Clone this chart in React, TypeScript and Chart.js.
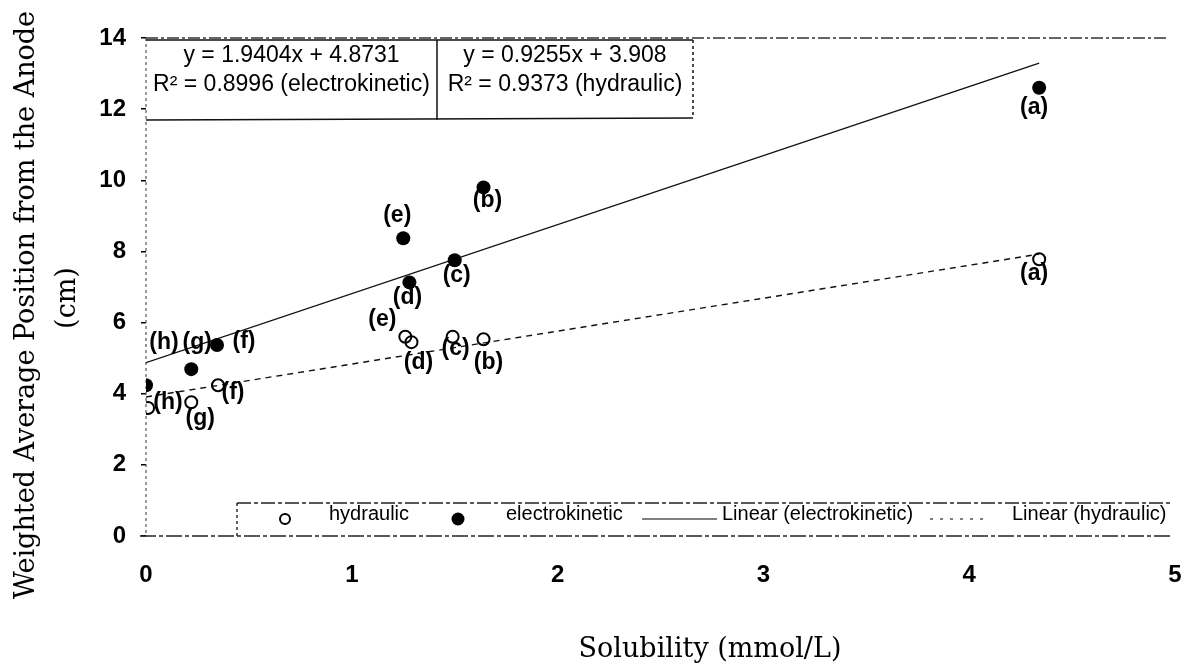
import React, { useEffect, useRef } from "react";
import { Chart, registerables } from "chart.js";

Chart.register(...registerables);

// ---------- data ----------
const pointLabels = ["(a)", "(b)", "(c)", "(d)", "(e)", "(f)", "(g)", "(h)"];
const hydraulicX = [4.34, 1.64, 1.49, 1.29, 1.26, 0.35, 0.22, 0.01];
const hydraulicY = [7.78, 5.53, 5.6, 5.45, 5.6, 4.24, 3.76, 3.6];
const electroX = [4.34, 1.64, 1.5, 1.28, 1.25, 0.345, 0.22, 0.0];
const electroY = [12.6, 9.8, 7.75, 7.13, 8.37, 5.37, 4.69, 4.24];
const trendX = [0, 4.34];
const electroTrendY = [4.873, 13.295];
const hydraulicTrendY = [3.908, 7.925];
const xTicks = [0, 1, 2, 3, 4, 5];
const yTicks = [0, 2, 4, 6, 8, 10, 12, 14];
const equationLines = [
  ["y = 1.9404x + 4.8731", "R\u00B2 = 0.8996 (electrokinetic)"],
  ["y = 0.9255x + 3.908", "R\u00B2 = 0.9373 (hydraulic)"],
];
const legendLabels = ["hydraulic", "electrokinetic", "Linear (electrokinetic)", "Linear (hydraulic)"];
const xTitle = "Solubility (mmol/L)";
const yTitleLines = ["Weighted Average Position from the Anode", "(cm)"];

// ---------- styles (pixel offsets for annotations) ----------
const electroLabelOffsets = [[-5, 20], [4, 13], [2, 15], [-2, 15], [-6, -23], [27, -3], [6, -27], [18, -43]];
const hydraulicLabelOffsets = [[-5, 14], [5, 23], [3, 12], [7, 21], [-23, -17], [15, 7], [9, 16], [20, -5]];

const SANS = "'Liberation Sans', Arial, sans-serif";
const SERIF = "'DejaVu Serif', serif";

const annotationPlugin = {
  id: "annotations",
  beforeDatasetsDraw(chart: any) {
    const { ctx, chartArea } = chart;
    const { left, right, top, bottom } = chartArea;
    ctx.save();
    ctx.strokeStyle = "#333";
    ctx.lineWidth = 1.5;
    ctx.setLineDash([12, 3, 3, 3]);
    ctx.beginPath();
    ctx.moveTo(left, top);
    ctx.lineTo(right - 6, top);
    ctx.stroke();
    ctx.strokeStyle = "#555";
    ctx.lineWidth = 1.2;
    ctx.setLineDash([3, 3]);
    ctx.beginPath();
    ctx.moveTo(left, top);
    ctx.lineTo(left, bottom);
    ctx.stroke();
    ctx.strokeStyle = "#222";
    ctx.lineWidth = 1.5;
    ctx.setLineDash([16, 3, 4, 3]);
    ctx.beginPath();
    ctx.moveTo(left - 6, bottom);
    ctx.lineTo(right - 4, bottom);
    ctx.stroke();
    ctx.restore();
  },
  afterDatasetsDraw(chart: any) {
    const { ctx, chartArea, scales } = chart;
    const xs = scales.x;
    const ys = scales.y;
    ctx.save();

    // ---- equation boxes ----
    const boxTop = chartArea.top + 2;
    const boxBottom = chartArea.top + 82;
    const boxEdges = [chartArea.left, 437, 693];
    ctx.strokeStyle = "#111";
    ctx.lineWidth = 1.5;
    ctx.setLineDash([]);
    ctx.beginPath();
    ctx.moveTo(boxEdges[0], boxTop);
    ctx.lineTo(boxEdges[2], boxTop);
    ctx.moveTo(boxEdges[0], boxBottom);
    ctx.lineTo(boxEdges[2], boxBottom - 2);
    ctx.moveTo(boxEdges[1], boxTop);
    ctx.lineTo(boxEdges[1], boxBottom);
    ctx.stroke();
    ctx.setLineDash([3, 3]);
    ctx.beginPath();
    ctx.moveTo(boxEdges[2], boxTop);
    ctx.lineTo(boxEdges[2], boxBottom - 2);
    ctx.stroke();
    ctx.setLineDash([]);
    ctx.fillStyle = "#000";
    ctx.font = `23px ${SANS}`;
    ctx.textAlign = "center";
    ctx.textBaseline = "middle";
    for (let b = 0; b < 2; b++) {
      const cx = (boxEdges[b] + boxEdges[b + 1]) / 2;
      ctx.fillText(equationLines[b][0], cx, boxTop + 16);
      ctx.fillText(equationLines[b][1], cx, boxTop + 45);
    }

    // ---- point labels ----
    ctx.font = `bold 23px ${SANS}`;
    ctx.textAlign = "center";
    ctx.textBaseline = "middle";
    for (let i = 0; i < pointLabels.length; i++) {
      const ex = xs.getPixelForValue(electroX[i]);
      const ey = ys.getPixelForValue(electroY[i]);
      ctx.fillText(pointLabels[i], ex + electroLabelOffsets[i][0], ey + electroLabelOffsets[i][1]);
      const hx = xs.getPixelForValue(hydraulicX[i]);
      const hy = ys.getPixelForValue(hydraulicY[i]);
      ctx.fillText(pointLabels[i], hx + hydraulicLabelOffsets[i][0], hy + hydraulicLabelOffsets[i][1]);
    }

    // ---- legend ----
    const lTop = 503;
    const lBottom = 537;
    const lLeft = 237;
    const lRight = 1170;
    ctx.strokeStyle = "#222";
    ctx.lineWidth = 1.4;
    ctx.setLineDash([14, 3, 4, 3]);
    ctx.beginPath();
    ctx.moveTo(lLeft, lTop);
    ctx.lineTo(lRight, lTop);
    ctx.stroke();
    ctx.setLineDash([3, 3]);
    ctx.beginPath();
    ctx.moveTo(lLeft, lTop);
    ctx.lineTo(lLeft, lBottom);
    ctx.stroke();
    ctx.setLineDash([]);
    const ly = 514;
    ctx.lineWidth = 2;
    ctx.strokeStyle = "#000";
    ctx.beginPath();
    ctx.arc(285, 519, 5, 0, Math.PI * 2);
    ctx.stroke();
    ctx.fillStyle = "#000";
    ctx.beginPath();
    ctx.arc(458, 519, 6.5, 0, Math.PI * 2);
    ctx.fill();
    ctx.lineWidth = 1.2;
    ctx.beginPath();
    ctx.moveTo(642, 519);
    ctx.lineTo(717, 519);
    ctx.stroke();
    ctx.setLineDash([3, 7]);
    ctx.beginPath();
    ctx.moveTo(930, 519);
    ctx.lineTo(984, 519);
    ctx.stroke();
    ctx.setLineDash([]);
    ctx.font = `20px ${SANS}`;
    ctx.textAlign = "left";
    ctx.textBaseline = "middle";
    ctx.fillText(legendLabels[0], 329, ly);
    ctx.fillText(legendLabels[1], 506, ly);
    ctx.fillText(legendLabels[2], 722, ly);
    ctx.fillText(legendLabels[3], 1012, ly);

    // ---- axis titles ----
    ctx.font = `27px ${SERIF}`;
    ctx.textAlign = "center";
    ctx.textBaseline = "middle";
    ctx.fillText(xTitle, 710, 650);
    ctx.save();
    ctx.translate(27, 305);
    ctx.rotate(-Math.PI / 2);
    ctx.fillText(yTitleLines[0], 0, 0);
    ctx.restore();
    ctx.save();
    ctx.translate(68, 298);
    ctx.rotate(-Math.PI / 2);
    ctx.fillText(yTitleLines[1], 0, 0);
    ctx.restore();

    ctx.restore();
  },
};

export default function App() {
  const ref = useRef<HTMLCanvasElement | null>(null);
  useEffect(() => {
    if (!ref.current) return;
    const chart = new Chart(ref.current, {
      type: "scatter",
      data: {
        datasets: [
          {
            label: legendLabels[2],
            data: trendX.map((x, i) => ({ x, y: electroTrendY[i] })),
            showLine: true,
            borderColor: "#111",
            borderWidth: 1.4,
            pointRadius: 0,
            order: 3,
          },
          {
            label: legendLabels[3],
            data: trendX.map((x, i) => ({ x, y: hydraulicTrendY[i] })),
            showLine: true,
            borderColor: "#111",
            borderWidth: 1.4,
            borderDash: [6, 5],
            pointRadius: 0,
            order: 4,
          },
          {
            label: legendLabels[0],
            data: hydraulicX.map((x, i) => ({ x, y: hydraulicY[i] })),
            pointRadius: 6,
            pointBorderWidth: 2,
            borderColor: "#000",
            backgroundColor: "rgba(0,0,0,0)",
            order: 1,
          },
          {
            label: legendLabels[1],
            data: electroX.map((x, i) => ({ x, y: electroY[i] })),
            pointRadius: 7,
            pointBorderWidth: 0,
            borderColor: "#000",
            backgroundColor: "#000",
            order: 2,
          },
        ],
      },
      options: {
        animation: false,
        responsive: false,
        devicePixelRatio: 1,
        layout: { padding: { top: 38, right: 7, left: 0, bottom: 0 } },
        plugins: {
          legend: { display: false },
          tooltip: { enabled: false },
          title: { display: false },
        },
        scales: {
          x: {
            type: "linear",
            min: 0,
            max: 5,
            afterBuildTicks: (scale: any) => {
              scale.ticks = xTicks.map((v) => ({ value: v }));
            },
            afterFit: (scale: any) => {
              scale.height = 131;
              scale.paddingLeft = 0;
              scale.paddingRight = 0;
            },
            ticks: {
              color: "#000",
              font: { family: SANS, size: 24, weight: "bold" },
              padding: 17,
              maxRotation: 0,
            },
            grid: { display: false },
            border: { display: false },
          },
          y: {
            type: "linear",
            min: 0,
            max: 14,
            afterBuildTicks: (scale: any) => {
              scale.ticks = yTicks.map((v) => ({ value: v }));
            },
            afterFit: (scale: any) => {
              scale.width = 146;
              scale.paddingTop = 0;
              scale.paddingBottom = 0;
            },
            ticks: {
              color: "#000",
              font: { family: SANS, size: 24, weight: "bold" },
              padding: 15,
            },
            grid: {
              drawOnChartArea: false,
              drawTicks: true,
              tickLength: 5,
              color: "#000",
              lineWidth: 1.5,
            },
            border: { display: false },
          },
        },
      },
      plugins: [annotationPlugin],
    });
    return () => chart.destroy();
  }, []);
  return (
    <div style={{ position: "fixed", left: 0, top: 0, width: 1183, height: 667, background: "#fff" }}>
      <canvas ref={ref} width={1183} height={667} />
    </div>
  );
}
